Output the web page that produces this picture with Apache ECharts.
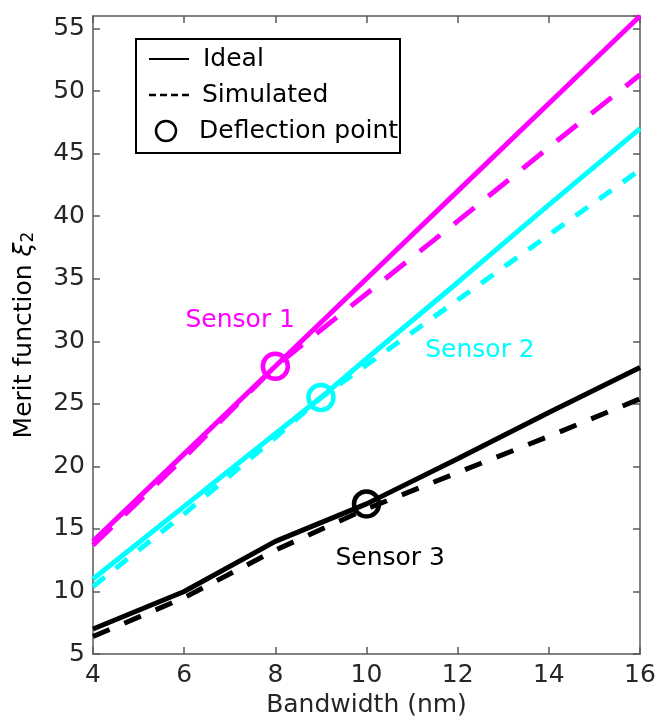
<!DOCTYPE html>
<html>
<head>
<meta charset="utf-8">
<script src="https://cdn.jsdelivr.net/npm/echarts@6/dist/echarts.min.js"></script>
<style>
html,body{margin:0;padding:0;background:#fff;}
#c{width:658px;height:720px;}
</style>
</head>
<body>
<div id="c"></div>
<script>
// ---- data ----
var bandwidth = [4, 6, 8, 10, 12, 14, 16];
var bandwidthS2 = [4, 6, 8, 9, 10, 12, 14, 16];
var sensor1Ideal = [14.0, 21.0, 28.0, 35.0, 42.0, 49.0, 56.0];
var sensor1Sim   = [13.7, 20.7, 28.0, 33.8, 39.6, 45.5, 51.3];
var sensor2Ideal = [11.0, 16.8, 22.6, 25.5, 28.6, 34.7, 40.9, 47.0];
var sensor2Sim   = [10.4, 16.2, 22.3, 25.5, 28.1, 33.3, 38.5, 43.7];
var sensor3Ideal = [7.0, 10.0, 14.0, 17.0, 20.6, 24.3, 27.9];
var sensor3Sim   = [6.4, 9.5, 13.3, 16.6, 19.5, 22.4, 25.4];
var deflectionX = [8, 9, 10];
var deflectionY = [28.0, 25.5, 17.0];
var sensorNames = ['Sensor 1', 'Sensor 2', 'Sensor 3'];
var sensorLabelX = [7.23, 12.49, 10.52];
var sensorLabelY = [31.65, 29.25, 12.65];
var legendNames = ['Ideal', 'Simulated', 'Deflection point'];
var xTicks = [4, 6, 8, 10, 12, 14, 16];
var yTicks = [5, 10, 15, 20, 25, 30, 35, 40, 45, 50, 55];

var colors = ['#ff00ff', '#00ffff', '#000000'];
var FONT = 'DejaVu Sans, sans-serif';
var FS = 25;

function pairs(xs, ys) { return xs.map(function (x, i) { return [x, ys[i]]; }); }

var chart = echarts.init(document.getElementById('c'), null, {renderer: 'canvas'});

var axisCol = '#262626';
var baseAxisLine = {show: true, lineStyle: {color: '#5a5a5a', width: 1.5}};
var tickIn = {show: true, inside: true, length: 7, lineStyle: {color: '#5a5a5a', width: 1.5}};

function lineSeries(xs, ys, color, dash) {
  return {
    type: 'line', data: pairs(xs, ys), xAxisIndex: 0, yAxisIndex: 0,
    showSymbol: false, symbol: 'none', silent: true, animation: false,
    lineStyle: {color: color, width: 5, type: dash || 'solid', cap: 'butt', opacity: 1},
    z: 3
  };
}

var series = [
  lineSeries(bandwidth, sensor3Sim, colors[2], [18, 16]),
  lineSeries(bandwidth, sensor3Ideal, colors[2]),
  lineSeries(bandwidthS2, sensor2Sim, colors[1], [15, 14]),
  lineSeries(bandwidthS2, sensor2Ideal, colors[1]),
  lineSeries(bandwidth, sensor1Sim, colors[0], [26, 18]),
  lineSeries(bandwidth, sensor1Ideal, colors[0])
];
deflectionX.forEach(function (x, i) {
  series.push({
    type: 'scatter', data: [[x, deflectionY[i]]], symbol: 'circle', symbolSize: 25,
    itemStyle: {color: 'rgba(0,0,0,0)', borderColor: colors[i], borderWidth: 4.5, opacity: 1},
    silent: true, animation: false, z: 5
  });
});
// sensor labels anchored to data coordinates
series.push({
  type: 'scatter', symbolSize: 0, silent: true, animation: false, z: 6,
  itemStyle: {opacity: 1},
  data: sensorNames.map(function (name, i) {
    return {value: [sensorLabelX[i], sensorLabelY[i]],
      label: {show: true, formatter: name, position: 'inside', opacity: 1,
        color: colors[i], fontSize: FS, fontFamily: FONT}};
  })
});

chart.setOption({
  animation: false,
  backgroundColor: '#ffffff',
  grid: {left: 93, right: 18, top: 16, bottom: 66, show: false, containLabel: false, outerBoundsMode: 'none'},
  xAxis: [{
    type: 'value', min: 4, max: 16, interval: 2,
    axisLine: baseAxisLine, axisTick: tickIn, splitLine: {show: false},
    axisLabel: {color: axisCol, fontSize: FS, fontFamily: FONT, margin: 9,
      formatter: function (v) { return xTicks.indexOf(v) >= 0 ? String(v) : ''; }},
    name: 'Bandwidth (nm)', nameLocation: 'middle', nameGap: 37,
    nameTextStyle: {color: axisCol, fontSize: FS, fontFamily: FONT}
  }, {
    type: 'value', min: 4, max: 16, interval: 2, position: 'top',
    axisLine: baseAxisLine, axisTick: tickIn, axisLabel: {show: false}, splitLine: {show: false}
  }],
  yAxis: [{
    type: 'value', min: 5, max: 56, interval: 5,
    axisLine: baseAxisLine, axisTick: tickIn, splitLine: {show: false},
    axisLabel: {color: axisCol, fontSize: FS, fontFamily: FONT, margin: 8, showMaxLabel: false,
      formatter: function (v) { return yTicks.indexOf(v) >= 0 ? String(v) : ''; }},
    name: '{a|Merit function }{b|ξ}{c|2}', nameLocation: 'middle', nameGap: 56, nameRotate: 90,
    nameTextStyle: {color: '#000', fontSize: FS, fontFamily: FONT,
      rich: {a: {fontSize: FS, fontFamily: FONT, color: '#000'},
             b: {fontSize: FS, fontFamily: FONT, color: '#000', fontStyle: 'italic'},
             c: {fontSize: 17, fontFamily: FONT, color: '#000', verticalAlign: 'bottom', padding: [9, 0, 0, 0]}}}
  }, {
    type: 'value', min: 5, max: 56, interval: 5, position: 'right',
    axisLine: baseAxisLine, axisTick: tickIn, axisLabel: {show: false}, splitLine: {show: false}
  }],
  series: series,
  graphic: [
    {type: 'rect', shape: {x: 136, y: 39, width: 264, height: 114},
      style: {fill: '#fff', stroke: '#000', lineWidth: 2}, z: 100},
    {type: 'line', shape: {x1: 149, y1: 59, x2: 189, y2: 59},
      style: {stroke: '#000', lineWidth: 2}, z: 101},
    {type: 'text', x: 203, y: 59, style: {text: legendNames[0], fill: '#000', fontSize: FS,
      fontFamily: FONT, verticalAlign: 'middle'}, z: 101},
    {type: 'line', shape: {x1: 149, y1: 95, x2: 189, y2: 95},
      style: {stroke: '#000', lineWidth: 2.5, lineDash: [7, 4]}, z: 101},
    {type: 'text', x: 202, y: 95, style: {text: legendNames[1], fill: '#000', fontSize: FS,
      fontFamily: FONT, verticalAlign: 'middle'}, z: 101},
    {type: 'circle', shape: {cx: 166, cy: 131, r: 10},
      style: {fill: 'none', stroke: '#000', lineWidth: 2.5}, z: 101},
    {type: 'text', x: 199, y: 131, style: {text: legendNames[2], fill: '#000', fontSize: FS,
      fontFamily: FONT, verticalAlign: 'middle'}, z: 101}
  ]
});
</script>
</body>
</html>
